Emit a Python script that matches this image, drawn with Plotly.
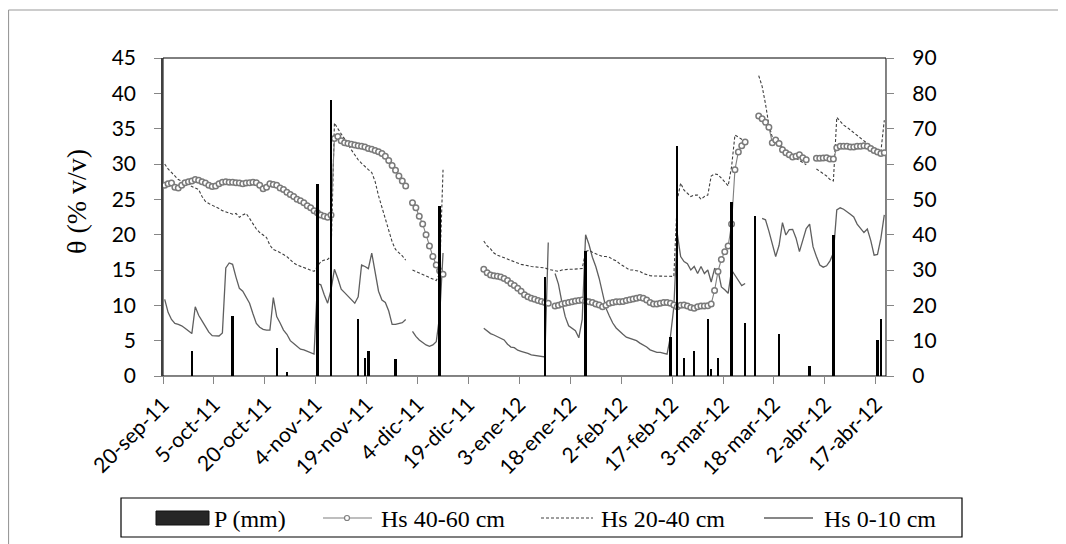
import plotly.graph_objects as go
from datetime import datetime, timedelta

# ---------------- data ----------------
START = datetime(2011, 9, 20)
N_DAYS = 213  # 20-sep-11 ... 19-abr-12

tick_labels = ["20-sep-11", "5-oct-11", "20-oct-11", "4-nov-11", "19-nov-11",
               "4-dic-11", "19-dic-11", "3-ene-12", "18-ene-12", "2-feb-12",
               "17-feb-12", "3-mar-12", "18-mar-12", "2-abr-12", "17-abr-12"]

N = None
# Hs 40-60 cm, daily (% v/v)
hs_40_60 = [
    27.0, 27.2, 27.3, 26.7, 26.6, 27.0, 27.35, 27.5, 27.6, 27.8,
    27.7, 27.5, 27.3, 27.0, 26.8, 26.9, 27.2, 27.4, 27.5, 27.4,
    27.4, 27.35, 27.3, 27.2, 27.3, 27.35, 27.4, 27.35, 27.0, 26.5,
    26.7, 27.2, 27.1, 27.0, 26.6, 26.4, 26.0, 25.7, 25.4, 25.0,
    24.8, 24.5, 24.1, 23.8, 23.4, 23.1, 22.8, 22.6, 22.45, 22.8,
    33.6, 33.9, 33.3, 33.0, 32.9, 32.8, 32.7, 32.6, 32.5, 32.4,
    32.2, 32.1, 31.9, 31.75, 31.5, 31.1, 30.5, 29.8, 29.1, 28.3,
    27.6, 26.9, N, 24.5, 23.8, 22.6, 21.5, 20.0, 18.4, 16.9,
    15.7, 14.9, 14.4, N, N, N, N, N, N, N,
    N, N, N, N, 15.1, 14.6, 14.3, 14.2, 14.1, 14.0,
    13.8, 13.5, 13.1, 12.8, 12.4, 12.0, 11.5, 11.2, 11.0, 10.85,
    10.7, 10.55, 10.4, 10.3, N, 9.9, 10.0, 10.2, 10.3, 10.4,
    10.5, 10.6, 10.7, 10.75, 10.6, 10.5, 10.4, 10.2, 10.05, 9.8,
    10.0, 10.3, 10.4, 10.5, 10.5, 10.55, 10.7, 10.8, 10.9, 11.0,
    11.1, 11.0, 10.75, 10.4, 10.2, 10.2, 10.3, 10.4, 10.4, 10.3,
    10.05, 9.8, 10.0, 10.05, 9.9, 9.7, 9.6, 9.8, 9.9, 9.9,
    9.95, 10.2, 12.1, 14.8, 16.5, 17.6, 18.4, 21.5, 29.2, 31.7,
    32.6, 33.1, N, N, N, 36.8, 36.4, 35.9, 35.2, 33.0,
    33.4, 32.9, 32.0, 31.6, 31.3, 31.0, 31.1, 31.3, 30.9, 30.6,
    N, N, 30.8, 30.8, 30.85, 30.9, 30.7, 30.7, 32.3, 32.5,
    32.5, 32.5, 32.4, 32.4, 32.5, 32.5, 32.6, 32.5, 32.2, 31.9,
    31.7, 31.5, 31.6,
]

# Hs 20-40 cm, daily (% v/v)
hs_20_40 = [
    30.0, 29.3, 28.8, 28.3, 27.8, 27.6, 27.5, 27.2, 26.8, 26.6,
    26.4, 25.4, 24.7, 24.4, 24.2, 24.0, 23.7, 23.4, 23.2, 23.0,
    22.9, 23.0, 22.45, 22.8, 23.0, 22.3, 21.5, 20.8, 20.3, 20.0,
    19.6, 18.5, 17.9, 17.7, 17.5, 17.2, 16.9, 16.4, 16.0, 15.7,
    15.5, 15.3, 15.1, 15.0, 14.8, 15.5, 16.2, 16.4, 16.5, 17.0,
    35.8, 35.0, 34.3, 33.6, 32.8, 32.0, 31.3, 30.6, 30.1, 29.6,
    29.2, 28.8, 27.5, 25.5, 23.9, 22.5, 20.8, 19.0, 17.9, 17.5,
    17.0, 16.4, N, 15.0, 14.8, 14.5, 14.3, 14.1, 13.9, 13.7,
    13.5, 14.5, 29.2, N, N, N, N, N, N, N,
    N, N, N, N, 19.1, 18.4, 18.0, 17.4, 17.1, 16.9,
    16.7, 16.6, 16.3, 16.2, 16.0, 15.8, 15.7, 15.55, 15.5, 15.45,
    15.4, 15.4, 15.3, 15.1, 15.0, 14.8, 14.8, 15.0, 15.1, 15.1,
    15.1, 15.1, 15.1, 15.2, 17.6, 17.8, 17.5, 17.3, 17.2, 16.9,
    16.9, 16.8, 16.5, 16.3, 15.9, 15.6, 15.3, 15.0, 15.0, 14.9,
    14.8, 14.5, 14.3, 14.2, 14.15, 14.15, 14.15, 14.15, 14.15, 14.1,
    14.1, 24.9, 27.3, 26.3, 25.8, 25.4, 25.6, 25.6, 25.0, 25.4,
    25.6, 28.3, 28.6, 28.5, 28.0, 27.5, 26.9, 29.6, 34.1, 33.8,
    33.5, 33.2, N, N, N, 42.5, 41.0, 38.5, 35.5, 33.8,
    33.3, 32.9, 32.4, 31.9, 31.4, 31.1, 30.8, 30.6, 30.3, 29.9,
    N, N, 29.3, 29.0, 28.7, 28.3, 27.8, 27.6, 36.6, 36.1,
    35.5, 35.2, 34.8, 34.4, 34.0, 33.6, 33.3, 32.9, 32.6, 32.2,
    31.9, 31.8, 36.2,
]

# Hs 0-10 cm, daily (% v/v)
hs_0_10 = [
    10.85, 9.0, 8.0, 7.45, 7.3, 7.1, 6.75, 6.4, 6.0, 9.8,
    8.6, 7.8, 7.0, 6.2, 5.7, 5.66, 5.66, 6.1, 15.3, 16.0,
    15.8, 14.0, 12.4, 12.0, 11.2, 10.3, 8.8, 7.45, 6.9, 6.6,
    6.5, 6.5, 11.1, 8.4, 7.5, 6.5, 5.9, 5.0, 4.6, 4.15,
    3.8, 3.7, 3.5, 3.3, 3.1, 13.1, 12.9, 11.5, 10.3, 12.2,
    15.1, 13.8, 12.3, 11.8, 11.3, 10.8, 10.3, 11.2, 15.7, 15.5,
    15.2, 17.4, 14.6, 12.0, 10.75, 10.4, 9.2, 7.3, 7.3, 7.4,
    7.55, 8.0, N, 6.3, 5.6, 5.1, 4.7, 4.4, 4.2, 4.4,
    4.85, 8.5, 17.4, N, N, N, N, N, N, N,
    N, N, N, N, 6.75, 6.4, 6.0, 5.8, 5.6, 5.3,
    5.1, 4.5, 4.1, 4.0, 3.65, 3.5, 3.4, 3.2, 3.0, 2.9,
    2.8, 2.7, 2.7, 18.9, N, 14.5, 13.0, 10.5, 8.4, 7.1,
    6.7, 6.4, 5.4, 8.0, 20.0, 18.6, 16.8, 15.5, 13.8, 11.8,
    9.6, 8.5, 7.5, 6.8, 6.3, 5.9, 5.5, 5.3, 5.15, 5.0,
    4.65, 4.4, 4.1, 3.7, 3.5, 3.35, 3.35, 3.2, 3.1, 5.6,
    9.8, 20.2, 16.9, 16.2, 15.9, 15.0, 15.5, 14.5, 15.5, 14.5,
    15.0, 13.3, 15.2, 15.0, 12.6, 12.2, 11.7, 15.0, 14.3, 13.6,
    12.8, 13.1, N, N, N, N, 22.3, 22.1, 20.5, 18.8,
    16.9, 18.5, 21.7, 19.95, 20.7, 20.75, 19.5, 17.6, 19.25, 20.85,
    21.5, 18.3, 16.9, 15.7, 15.4, 15.6, 16.3, 17.4, 23.5, 23.8,
    23.6, 23.3, 22.9, 22.5, 21.5, 20.9, 20.3, 20.8, 19.2, 17.1,
    17.2, 19.5, 22.8,
]

# Precipitation P (mm): day index since 20-sep-11 and amount
p_day = [8, 20, 33, 36, 45, 49, 57, 59, 60, 68, 81, 112, 124, 149, 151,
         153, 156, 160, 161, 163, 167, 171, 174, 181, 190, 197, 210, 211]
p_mm = [7.1, 17.0, 8.0, 1.0, 54.2, 78.0, 16.1, 5.0, 7.0, 4.8, 48.2, 28.0,
        35.5, 11.0, 65.2, 5.0, 7.1, 16.1, 2.0, 5.0, 49.2, 15.0, 45.2, 11.9,
        2.8, 39.9, 10.2, 16.1]

# ---------------- helpers ----------------
def day_center(i):
    return START + timedelta(days=i, hours=12)

def fit(lst):
    lst = list(lst)[:N_DAYS]
    return lst + [None] * (N_DAYS - len(lst))

x_days = [day_center(i) for i in range(N_DAYS)]
tick_vals = [START + timedelta(days=15 * k) for k in range(len(tick_labels))]

# page body has an 8px margin: figure coordinates = window coordinates - 8
OFF = 8
W, H = 1066 - OFF, 544 - OFF
PL, PR, PT, PB = 163 - OFF, 886 - OFF, 58 - OFF, 376 - OFF

def px(x):  # window x -> paper x
    return (x - OFF - PL) / (PR - PL)

def py(y):  # window y -> paper y
    return (PB - (y - OFF)) / (PB - PT)

AXIS_FONT = dict(family="Lato", size=21, color="black")
SERIF = "Liberation Serif"
GRAY = "#868686"

fig = go.Figure()

fig.add_trace(go.Scatter(
    x=x_days, y=fit(hs_0_10), mode="lines", name="Hs 0-10 cm",
    line=dict(color="#5f5f5f", width=1.3), connectgaps=False, yaxis="y"))
fig.add_trace(go.Scatter(
    x=x_days, y=fit(hs_20_40), mode="lines", name="Hs 20-40 cm",
    line=dict(color="#404040", width=1.1, dash="3px,2px"), connectgaps=False, yaxis="y"))
fig.add_trace(go.Scatter(
    x=x_days, y=fit(hs_40_60), mode="lines+markers", name="Hs 40-60 cm",
    line=dict(color="#7f7f7f", width=1.1),
    marker=dict(symbol="circle", size=5.5, color="white",
                line=dict(color="#7a7a7a", width=1.5)),
    connectgaps=False, yaxis="y"))
fig.add_trace(go.Bar(
    x=[day_center(d) for d in p_day], y=p_mm, name="P (mm)",
    width=0.68 * 86400000, marker=dict(color="black", line=dict(width=0)),
    yaxis="y2"))

shapes = [
    # plot area border
    dict(type="rect", xref="paper", yref="paper", x0=0, x1=1, y0=0, y1=1,
         line=dict(color="black", width=1), layer="below"),
    # chart area border (top and left visible)
    dict(type="line", xref="paper", yref="paper", x0=px(8.5), x1=px(1066),
         y0=py(10), y1=py(10), line=dict(color="#9a9a9a", width=1.2)),
    dict(type="line", xref="paper", yref="paper", x0=px(8.5), x1=px(8.5),
         y0=py(10), y1=py(544), line=dict(color="#9a9a9a", width=1.2)),
    # legend box
    dict(type="rect", xref="paper", yref="paper", x0=px(121), x1=px(962),
         y0=py(498), y1=py(537), line=dict(color="black", width=1.2)),
    # legend symbols
    dict(type="rect", xref="paper", yref="paper", x0=px(156), x1=px(209),
         y0=py(511), y1=py(525), fillcolor="#262626", line=dict(color="#111111", width=1)),
    dict(type="line", xref="paper", yref="paper", x0=px(323), x1=px(372),
         y0=py(518), y1=py(518), line=dict(color="#7f7f7f", width=1.1)),
    dict(type="circle", xref="paper", yref="paper", x0=px(344.5), x1=px(349.5),
         y0=py(515.5), y1=py(520.5), fillcolor="white", line=dict(color="#7f7f7f", width=1.2)),
    dict(type="line", xref="paper", yref="paper", x0=px(541), x1=px(593),
         y0=py(518), y1=py(518), line=dict(color="#404040", width=1.1, dash="3px,2px")),
    dict(type="line", xref="paper", yref="paper", x0=px(764), x1=px(813),
         y0=py(518), y1=py(518), line=dict(color="#5f5f5f", width=1.3)),
]

annotations = [
    dict(text="θ (% v/v)", xref="paper", yref="paper", x=px(76), y=py(202),
         textangle=-90, showarrow=False, xanchor="center", yanchor="middle",
         font=dict(family=SERIF, size=28, color="black")),
]
for label, xpos in [("P (mm)", 212), ("Hs 40-60 cm", 379),
                    ("Hs 20-40 cm", 599), ("Hs 0-10 cm", 822)]:
    annotations.append(dict(text=label, xref="paper", yref="paper", x=px(xpos), y=py(519),
                            showarrow=False, xanchor="left", yanchor="middle",
                            font=dict(family=SERIF, size=24, color="black")))

fig.update_layout(
    width=W, height=H,
    margin=dict(l=PL, r=W - PR, t=PT, b=H - PB, pad=0, autoexpand=False),
    paper_bgcolor="white", plot_bgcolor="white",
    showlegend=False, bargap=0,
    xaxis=dict(type="date",
               range=[START, START + timedelta(days=N_DAYS)],
               tickmode="array", tickvals=tick_vals, ticktext=tick_labels,
               tickangle=-45, ticks="outside", ticklen=7, tickcolor=GRAY,
               showline=True, linecolor=GRAY, linewidth=1.2,
               showgrid=False, zeroline=False, tickfont=AXIS_FONT,
               automargin=False),
    yaxis=dict(range=[0, 45], tickmode="linear", tick0=0, dtick=5,
               ticks="outside", ticklen=7, tickcolor=GRAY,
               showline=True, linecolor="#404040", linewidth=1.5,
               showgrid=False, zeroline=False, tickfont=AXIS_FONT,
               ticklabelstandoff=14, automargin=False),
    yaxis2=dict(range=[0, 90], tickmode="linear", tick0=0, dtick=10,
                overlaying="y", side="right", anchor="x",
                ticks="outside", ticklen=7, tickcolor=GRAY,
                showline=True, linecolor=GRAY, linewidth=1.2,
                showgrid=False, zeroline=False, tickfont=AXIS_FONT,
                ticklabelstandoff=14, automargin=False),
    shapes=shapes, annotations=annotations,
)

fig.write_html("out.html")
